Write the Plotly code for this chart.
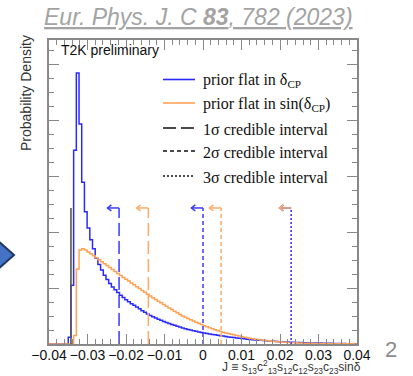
import numpy as np
import plotly.graph_objects as go

# ---------------- data ----------------
X_MIN, X_MAX = -0.04, 0.04
BIN_START = -0.0350
BIN_WIDTH = 0.0007

blue_density = [
    0.12, 1.05, 3.46, 4.84, 3.93, 2.89, 2.36, 2.07, 1.86, 1.70,
    1.53, 1.42, 1.32, 1.23, 1.15, 1.08, 1.02, 0.97, 0.92, 0.87,
    0.83, 0.79, 0.755, 0.72, 0.69, 0.66, 0.63, 0.595, 0.565, 0.537,
    0.51, 0.487, 0.465, 0.444, 0.424, 0.404, 0.385, 0.367, 0.35, 0.334,
    0.318, 0.302, 0.287, 0.273, 0.26, 0.248, 0.237, 0.226, 0.216, 0.206,
    0.197, 0.188, 0.179, 0.171, 0.163, 0.155, 0.148, 0.141, 0.134, 0.127,
    0.121, 0.115, 0.109, 0.103, 0.097, 0.092, 0.087, 0.082, 0.077, 0.073,
    0.069, 0.065, 0.061, 0.057, 0.054, 0.051, 0.048, 0.045, 0.042, 0.039,
    0.037, 0.035, 0.033, 0.031, 0.029, 0.027, 0.025, 0.023, 0.021, 0.020,
    0.019, 0.018, 0.017, 0.016, 0.015, 0.014, 0.013, 0.012, 0.011, 0.010,
    0.009, 0.008, 0.007, 0.006, 0.006, 0.005, 0.005,
]
orange_density = [
    0.0, 0.0, 0.15, 1.34, 1.68, 1.70, 1.68, 1.645, 1.61, 1.575,
    1.54, 1.505, 1.47, 1.435, 1.40, 1.365, 1.33, 1.295, 1.26, 1.225,
    1.19, 1.157, 1.124, 1.09, 1.057, 1.024, 0.99, 0.957, 0.924, 0.89,
    0.858, 0.826, 0.795, 0.765, 0.735, 0.705, 0.675, 0.645, 0.615, 0.585,
    0.556, 0.528, 0.50, 0.478, 0.456, 0.434, 0.412, 0.39, 0.369, 0.348,
    0.327, 0.308, 0.29, 0.273, 0.256, 0.24, 0.225, 0.21, 0.198, 0.186,
    0.174, 0.163, 0.152, 0.141, 0.131, 0.121, 0.112, 0.103, 0.095, 0.087,
    0.08, 0.073, 0.067, 0.061, 0.056, 0.051, 0.046, 0.042, 0.038, 0.034,
    0.031, 0.028, 0.025, 0.023, 0.021, 0.019, 0.017, 0.015, 0.014, 0.013,
    0.012, 0.011, 0.010, 0.009, 0.008, 0.008, 0.007, 0.006, 0.006, 0.005,
    0.005, 0.004, 0.004, 0.003, 0.003, 0.003, 0.002,
]

interval_levels = ["1σ", "2σ", "3σ"]
interval_dashes = ["13px,5px", "4px,3px", "2px,2px"]
blue_upper = [-0.0218, 0.0, 0.0229]
orange_upper = [-0.0142, 0.0047, 0.0229]
lower_bound = -0.0343
interval_height = 2.43

legend_labels = [
    "prior flat in δ<sub>CP</sub>",
    "prior flat in sin(δ<sub>CP</sub>)",
    "1σ credible interval",
    "2σ credible interval",
    "3σ credible interval",
]

BLUE = "#2a2aff"
ORANGE = "#ffa257"
BLUE_V = "#3a3aff"
ORANGE_V = "#ffaa66"

# ---------------- layout geometry ----------------
W, H = 413, 376
L, R, T, B = 49, 56, 40, 32
PW, PH = W - L - R, H - T - B
Y_MAX = 5.43


def px_x(px):
    return (px - L) / PW


def px_y(py):
    return (H - B - py) / PH


edges = BIN_START + BIN_WIDTH * np.arange(len(blue_density) + 1)


def step_xy(values):
    xs = [X_MIN] + list(edges[:-1]) + [edges[-1]]
    ys = [0.0] + list(values) + [values[-1]]
    return xs, ys


fig = go.Figure()

bx, by = step_xy(blue_density)
fig.add_trace(go.Scatter(x=bx, y=by, mode="lines", line=dict(color=BLUE, width=1.5, shape="hv"),
                         showlegend=False, hoverinfo="skip"))
ox, oy = step_xy(orange_density)
fig.add_trace(go.Scatter(x=ox, y=oy, mode="lines", line=dict(color=ORANGE, width=1.5, shape="hv"),
                         showlegend=False, hoverinfo="skip"))

# lower bound line
fig.add_trace(go.Scatter(x=[lower_bound, lower_bound], y=[0, interval_height], mode="lines",
                         line=dict(color="#555555", width=1.6), showlegend=False, hoverinfo="skip"))

# vertical interval lines
for ups, col in ((orange_upper, ORANGE_V), (blue_upper, BLUE_V)):
    for u, d in zip(ups, interval_dashes):
        fig.add_trace(go.Scatter(x=[u, u], y=[0, interval_height], mode="lines",
                                 line=dict(color=col, width=1.5, dash=d),
                                 showlegend=False, hoverinfo="skip"))

# arrows
ARROW_LEN = 0.0030
HEAD_DX = 0.0010
HEAD_DY = 0.055
for ups, col in ((blue_upper, BLUE_V), (orange_upper, ORANGE_V)):
    for u in ups:
        tip = u - ARROW_LEN
        fig.add_trace(go.Scatter(
            x=[u, tip, None, tip + HEAD_DX, tip, tip + HEAD_DX],
            y=[interval_height, interval_height, None,
               interval_height + HEAD_DY, interval_height, interval_height - HEAD_DY],
            mode="lines", line=dict(color=col, width=1.5),
            showlegend=False, hoverinfo="skip"))

# ---------------- legend (manual) ----------------
leg_rows_px = [79.5, 103, 128, 151, 176]
leg_colors = [BLUE, ORANGE, "#111111", "#111111", "#111111"]
leg_dash = ["solid", "solid", "13px,5px", "4px,3px", "2px,2px"]
shapes = []
annotations = []
for yy, lab, c, d in zip(leg_rows_px, legend_labels, leg_colors, leg_dash):
    shapes.append(dict(type="line", xref="paper", yref="paper",
                       x0=px_x(163), x1=px_x(195), y0=px_y(yy), y1=px_y(yy),
                       line=dict(color=c, width=1.6, dash=d)))
    annotations.append(dict(text=lab, xref="paper", yref="paper", x=px_x(201), y=px_y(yy + 1),
                            xanchor="left", yanchor="middle", showarrow=False,
                            font=dict(family="Liberation Serif", size=16, color="#111111")))

# diamond slide element at left
pts = [(-4, 239), (14, 255), (-4, 271)]
path = "M " + " L ".join(f"{px_x(a):.4f},{px_y(b):.4f}" for a, b in pts) + " Z"
shapes.append(dict(type="path", xref="paper", yref="paper", path=path,
                   fillcolor="#4472C4", line=dict(color="#1F3864", width=2)))

annotations += [
    dict(text="T2K preliminary", xref="paper", yref="paper", x=px_x(59), y=px_y(50),
         xanchor="left", yanchor="middle", showarrow=False,
         font=dict(family="Liberation Sans", size=14, color="#111111")),
    dict(text="Probability Density", xref="paper", yref="paper", x=px_x(26), y=px_y(33),
         xanchor="center", yanchor="top", textangle=-90, showarrow=False,
         font=dict(family="Liberation Sans", size=14, color="#333333")),
    dict(text="J ≡ s<sub>13</sub>c<sup>2</sup><sub>13</sub>s<sub>12</sub>c<sub>12</sub>s<sub>23</sub>c<sub>23</sub>sinδ",
         xref="paper", yref="paper", x=px_x(362), y=px_y(367),
         xanchor="right", yanchor="middle", showarrow=False, borderpad=0,
         font=dict(family="Liberation Sans", size=12, color="#333333")),
    dict(text="<u>Eur. Phys. J. C <b>83</b>, 782 (2023)</u>", xref="paper", yref="paper",
         x=px_x(198), y=px_y(17), xanchor="center", yanchor="middle", showarrow=False,
         font=dict(family="Liberation Sans", size=23, color="#a3a3a3", style="italic")),
    dict(text="2", xref="paper", yref="paper", x=px_x(391), y=px_y(349),
         xanchor="center", yanchor="middle", showarrow=False,
         font=dict(family="Liberation Sans", size=22, color="#8c8c8c")),
]

axis_common = dict(showgrid=False, zeroline=False, showline=True, linecolor="#888888", linewidth=2,
                   mirror="ticks", ticks="inside", ticklen=10, tickwidth=1, tickcolor="#888888")

fig.update_layout(
    width=W, height=H,
    margin=dict(l=L, r=R, t=T, b=B),
    plot_bgcolor="white", paper_bgcolor="white",
    showlegend=False,
    shapes=shapes,
    annotations=annotations,
    xaxis=dict(range=[X_MIN, X_MAX], tick0=0, dtick=0.01,
               minor=dict(dtick=0.002, ticklen=5, ticks="inside", tickcolor="#888888"),
               tickfont=dict(family="Liberation Sans", size=14, color="#111111"),
               ticklabelstandoff=-3,
               **axis_common),
    yaxis=dict(range=[0, Y_MAX], tick0=0, dtick=1, showticklabels=False,
               minor=dict(dtick=0.25, ticklen=5, ticks="inside", tickcolor="#888888"),
               **axis_common),
)

fig.write_html("out.html")
